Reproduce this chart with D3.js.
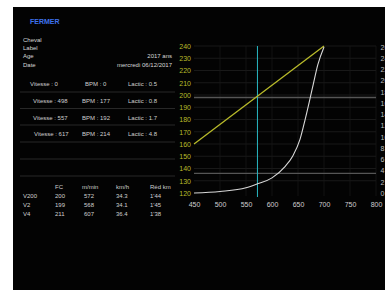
<!DOCTYPE html>
<html>
<head>
<meta charset="utf-8">
<script src="https://cdn.jsdelivr.net/npm/d3@7"></script>
<style>
    body { margin: 0; background: #fff; }
    svg { display: block; font-family: "Liberation Sans", Arial, sans-serif; }
</style>
</head>
<body>
<div id="chart"></div>
<script>
// horse info
let infoLabels = ["Cheval", "Label", "Age", "Date"];
let infoValues = ["", "", "2017 ans", "mercredi 06/12/2017"];

// test steps
let stepSpeeds = [0, 498, 557, 617];
let stepBpm = [0, 177, 192, 214];
let stepLactic = ["0.5", "0.8", "1.7", "4.8"];

// summary table
let tableHeads = ["", "FC", "m/min", "km/h", "Réd km"];
let tableNames = ["V200", "V2", "V4"];
let tableFc = [200, 199, 211];
let tableMmin = [572, 568, 607];
let tableKmh = ["34.3", "34.1", "36.4"];
let tableRed = ["1'44", "1'45", "1'38"];

// chart
let speedTicks = [450, 500, 550, 600, 650, 700, 750, 800];
let bpmTicks = [120, 130, 140, 150, 160, 170, 180, 190, 200, 210, 220, 230, 240];
let lacticTicks = [0, 2, 4, 6, 8, 10, 12, 14, 16, 18, 20, 22, 24, 26];
let bpmSpeeds = [450, 700];
let bpmValues = [160, 240];
let lacticSpeeds = [450, 500, 550, 572, 600, 625, 640, 654, 664, 679, 688, 700];
let lacticValues = [0, 0.27, 0.92, 1.63, 2.7, 4.7, 6.6, 9.6, 13.2, 19.2, 22.8, 26];
let v200Speed = 572;
let refBpm = [198, 136];

class Sheet {

    constructor () {
        this.svg = d3.select("#chart").append("svg")
            .attr("width", 385)
            .attr("height", 290);

        this.svg.append("rect")
            .attr("x", 13).attr("y", 7)
            .attr("width", 372).attr("height", 283)
            .attr("fill", "#030303");

        this.drawInfo();
        this.drawChart();
    }

    drawInfo () {
        let svg = this.svg;

        svg.append("text")
            .attr("x", 30).attr("y", 24)
            .attr("fill", "#3f72ec")
            .attr("font-size", 7)
            .attr("font-weight", "bold")
            .text("FERMER");

        let info = svg.append("g").attr("font-size", 6).attr("fill", "#d8d8d8");
        for (let i = 0; i < infoLabels.length; i++) {
            let y = 42 + i * 8.2;
            info.append("text").attr("x", 23).attr("y", y).text(infoLabels[i]);
            info.append("text").attr("x", 172).attr("y", y)
                .attr("text-anchor", "end").text(infoValues[i]);
        }

        // step rows and separators
        let rows = svg.append("g").attr("font-size", 6).attr("fill", "#cfcfcf");
        let rowY = [86, 103, 119.5, 136];
        let vitX = [30, 33, 33, 34];
        for (let i = 0; i < stepSpeeds.length; i++) {
            rows.append("text").attr("x", vitX[i]).attr("y", rowY[i])
                .text("Vitesse : " + stepSpeeds[i]);
            rows.append("text").attr("x", i === 0 ? 85 : 82).attr("y", rowY[i])
                .text("BPM : " + stepBpm[i]);
            rows.append("text").attr("x", 128).attr("y", rowY[i])
                .text("Lactic : " + stepLactic[i]);
        }
        [92, 108.5, 125, 142, 159, 176].forEach(function (y) {
            svg.append("line")
                .attr("x1", 20).attr("x2", 175)
                .attr("y1", y).attr("y2", y)
                .attr("stroke", "#3a3a3a")
                .attr("stroke-width", 0.7);
        });

        // summary table
        let colX = [23, 55, 82, 116, 150];
        let table = svg.append("g").attr("font-size", 6).attr("fill", "#d0d0d0");
        for (let c = 1; c < tableHeads.length; c++) {
            table.append("text").attr("x", colX[c]).attr("y", 189).text(tableHeads[c]);
        }
        for (let r = 0; r < tableNames.length; r++) {
            let y = 198 + r * 9;
            let cells = [tableNames[r], tableFc[r], tableMmin[r], tableKmh[r], tableRed[r]];
            cells.forEach(function (v, c) {
                table.append("text")
                    .attr("x", c === 2 ? 84 : colX[c])
                    .attr("y", y).text(v);
            });
        }
    }

    drawChart () {
        let svg = this.svg;

        let x = d3.scaleLinear().domain([450, 800]).range([194, 376]);
        let yL = d3.scaleLinear().domain([120, 240]).range([193, 46]);
        let yR = d3.scaleLinear().domain([0, 26]).range([193, 47]);

        // grid
        svg.append("g").selectAll("line")
            .data(bpmTicks.slice(1))
            .enter().append("line")
            .attr("x1", 194).attr("x2", 376)
            .attr("y1", d => yL(d)).attr("y2", d => yL(d))
            .attr("stroke", "#202020").attr("stroke-width", 0.8);

        svg.append("g").selectAll("line")
            .data(speedTicks.slice(1))
            .enter().append("line")
            .attr("x1", d => x(d)).attr("x2", d => x(d))
            .attr("y1", 46).attr("y2", 196)
            .attr("stroke", "#181818").attr("stroke-width", 0.8);

        // reference lines
        svg.append("g").selectAll("line")
            .data(refBpm)
            .enter().append("line")
            .attr("x1", 194).attr("x2", 376)
            .attr("y1", d => yL(d)).attr("y2", d => yL(d))
            .attr("stroke", "#555").attr("stroke-width", 1.4);

        // V200 marker
        svg.append("line")
            .attr("x1", x(v200Speed)).attr("x2", x(v200Speed))
            .attr("y1", 46).attr("y2", 197)
            .attr("stroke", "#29b9c4").attr("stroke-width", 1);

        // heart rate line
        let bpmLine = d3.line()
            .x((d, i) => x(bpmSpeeds[i]))
            .y(d => yL(d));
        svg.append("path")
            .datum(bpmValues)
            .attr("d", bpmLine)
            .attr("fill", "none")
            .attr("stroke", "#b9bb2a")
            .attr("stroke-width", 1.3);

        // lactic curve
        let lacticLine = d3.line()
            .x((d, i) => x(lacticSpeeds[i]))
            .y(d => yR(d))
            .curve(d3.curveMonotoneX);
        svg.append("path")
            .datum(lacticValues)
            .attr("d", lacticLine)
            .attr("fill", "none")
            .attr("stroke", "#d8d8d8")
            .attr("stroke-width", 1.1);

        // axes
        let leftAxis = svg.append("g")
            .attr("transform", "translate(194,0)")
            .call(d3.axisLeft(yL).tickValues(bpmTicks).tickSize(0).tickPadding(3));
        leftAxis.select(".domain").remove();
        leftAxis.selectAll("text")
            .attr("fill", "#b9bb2a")
            .attr("font-size", 7)
            .attr("font-family", "Liberation Sans, Arial, sans-serif");

        let bottomAxis = svg.append("g")
            .attr("transform", "translate(0,193)")
            .call(d3.axisBottom(x).tickValues(speedTicks).tickSize(0).tickPadding(9));
        bottomAxis.select(".domain").remove();
        bottomAxis.selectAll("text")
            .attr("fill", "#cfcfcf")
            .attr("font-size", 7)
            .attr("font-family", "Liberation Sans, Arial, sans-serif");

        // right axis is cut by the frame edge, as in the screenshot
        let rightAxis = svg.append("g")
            .attr("transform", "translate(378,0)")
            .call(d3.axisRight(yR).tickValues(lacticTicks).tickSize(0).tickPadding(2.5));
        rightAxis.select(".domain").remove();
        rightAxis.selectAll("text")
            .attr("fill", "#bdbdbd")
            .attr("font-size", 7)
            .attr("font-family", "Liberation Sans, Arial, sans-serif");
    }

}

new Sheet();
</script>
</body>
</html>
